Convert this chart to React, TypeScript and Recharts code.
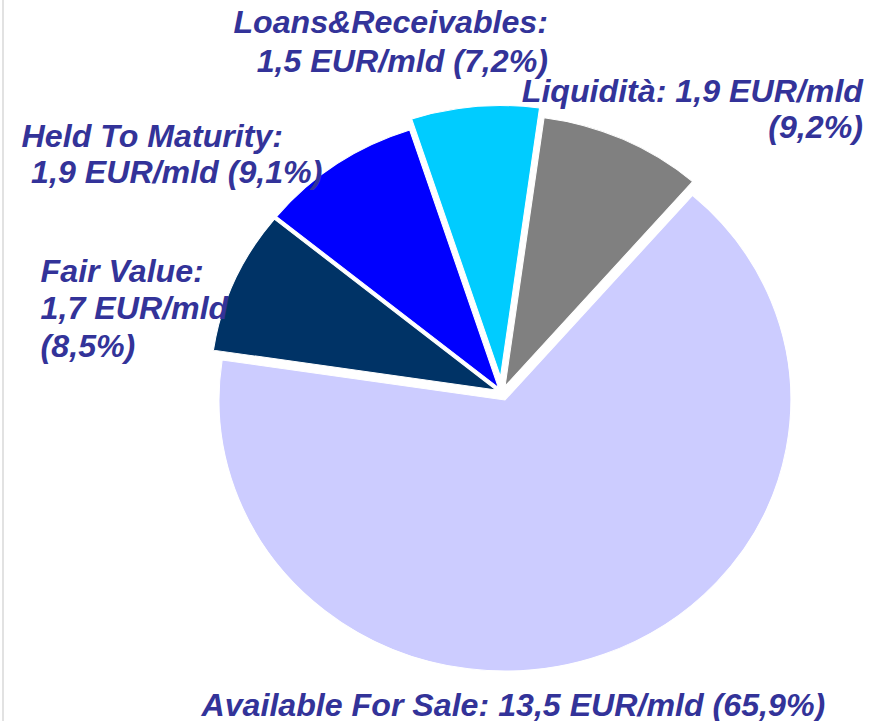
import React from 'react';
import { PieChart, Pie, Cell, Sector } from 'recharts';

// ---- data ----
const CATEGORIES = ['Available For Sale', 'Fair Value', 'Held To Maturity', 'Loans&Receivables', 'Liquidità'];
const AMOUNTS_EUR_MLD = [13.5, 1.7, 1.9, 1.5, 1.9];
const SHARES_PCT = [65.9, 8.5, 9.1, 7.2, 9.2];

// ---- styles ----
const COLORS = ['#CCCCFF', '#003366', '#0000FF', '#00CCFF', '#808080'];
const EXPLODE = [8, 6, 6, 16, 7];
const LABEL_COLOR = '#333399';
const FONT = "'Liberation Sans', Arial, Helvetica, sans-serif";
const FONT_SIZE = 30.5;

// label layout: which text parts go on which line, and where (chart coords)
const LINE_GROUPS = [[[0, 1, 2]], [[0], [1], [2]], [[0], [1, 2]], [[0], [1, 2]], [[0, 1], [2]]];
const LABEL_LAYOUT = [
  { anchor: 'start', xs: [191], ys: [716] },
  { anchor: 'start', xs: [38.5, 38.5, 38.5], ys: [282.3, 319.5, 356.7] },
  { anchor: 'start', xs: [20.5, 29.5], ys: [146.7, 183.3] },
  { anchor: 'end', xs: [519.4, 519.4], ys: [33.3, 71.7] },
  { anchor: 'end', xs: [818, 818], ys: [101.7, 138] },
];

const SX = 1.055; // horizontal stretch of the original picture
const W = 881;
const H = 721;
const CW = W / SX;
const CX = 502 / SX;
const CY = 392.5;
const R = 271;

const data = CATEGORIES.map((name, i) => ({ name, value: SHARES_PCT[i], amount: AMOUNTS_EUR_MLD[i] }));

const fmt = (v: number) => v.toFixed(1).replace('.', ',');

const renderSector = (props: any) => {
  const name = props.name ?? props.payload?.name;
  const i = CATEGORIES.indexOf(name);
  const e = EXPLODE[i] ?? 0;
  const rad = (props.midAngle * Math.PI) / 180;
  return <Sector {...props} cx={props.cx + e * Math.cos(rad)} cy={props.cy - e * Math.sin(rad)} />;
};

const renderLabel = (p: any) => {
  const name = p.name ?? p.payload?.name;
  const i = CATEGORIES.indexOf(name);
  if (i < 0) return null;
  const parts = [`${CATEGORIES[i]}:`, `${fmt(AMOUNTS_EUR_MLD[i])} EUR/mld`, `(${fmt(SHARES_PCT[i])}%)`];
  const lay = LABEL_LAYOUT[i];
  const lines = LINE_GROUPS[i].map((g) => g.map((k) => parts[k]).join(' '));
  return (
    <text
      key={`lbl-${i}`}
      textAnchor={lay.anchor as any}
      fill={LABEL_COLOR}
      fontFamily={FONT}
      fontWeight="bold"
      fontStyle="italic"
      fontSize={FONT_SIZE}
    >
      {lines.map((ln, k) => (
        <tspan key={k} x={lay.xs[k]} y={lay.ys[k]}>
          {ln}
        </tspan>
      ))}
    </text>
  );
};

export default function App() {
  return (
    <div style={{ position: 'fixed', left: 0, top: 0, width: W, height: H, background: '#fff', overflow: 'hidden' }}>
      <div style={{ position: 'absolute', left: 2, top: 0, width: 2, height: H, background: '#e2e2e2' }} />
      <div style={{ position: 'absolute', left: 0, top: 0, width: CW, height: H, transform: `scaleX(${SX})`, transformOrigin: '0 0' }}>
        <PieChart width={CW} height={H} margin={{ top: 0, right: 0, bottom: 0, left: 0 }}>
          <Pie
            data={data}
            dataKey="value"
            nameKey="name"
            cx={CX}
            cy={CY}
            outerRadius={R}
            innerRadius={0}
            startAngle={49}
            endAngle={-311}
            stroke="#ffffff"
            strokeWidth={1}
            isAnimationActive={false}
            shape={renderSector}
            label={renderLabel}
            labelLine={false}
          >
            {data.map((d, i) => (
              <Cell key={d.name} fill={COLORS[i]} />
            ))}
          </Pie>
        </PieChart>
      </div>
    </div>
  );
}
